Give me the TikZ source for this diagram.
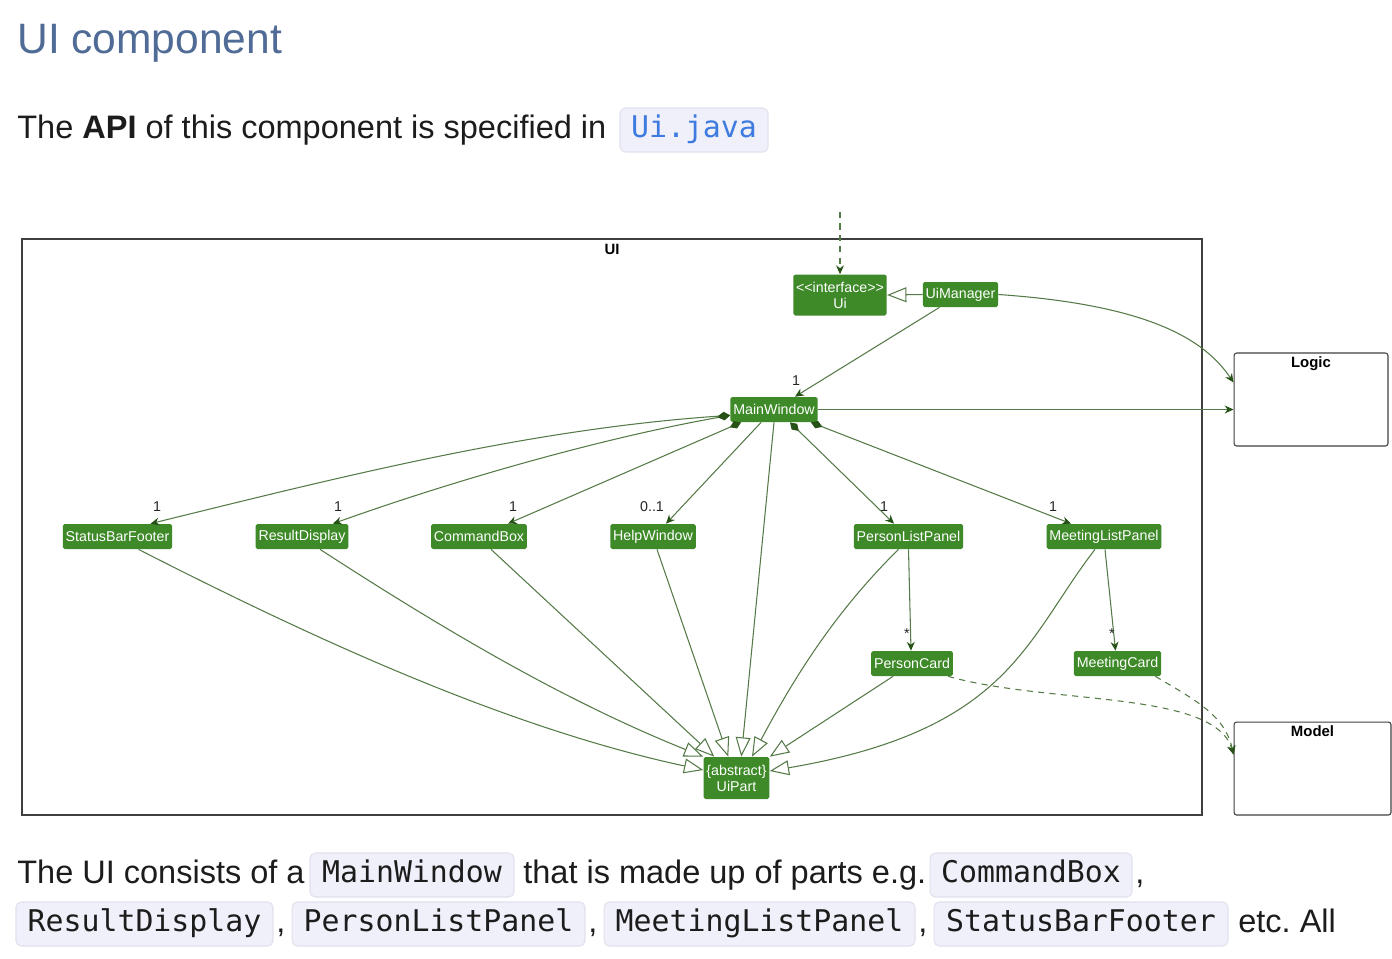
\documentclass[tikz,border=0pt]{standalone}
\usepackage{fontspec}
\setmainfont{Liberation Sans}
\newfontfamily\codefont{DejaVu Sans Mono}
\usetikzlibrary{positioning,calc,arrows.meta}

\definecolor{umlgreen}{RGB}{62,138,40}
\definecolor{edgegreen}{RGB}{85,122,72}
\definecolor{tipgreen}{RGB}{38,82,24}
\definecolor{titleblue}{RGB}{79,107,150}
\definecolor{codebg}{RGB}{240,240,250}
\definecolor{codeborder}{RGB}{225,225,238}
\definecolor{codeblue}{RGB}{62,123,224}
\definecolor{bodytext}{RGB}{28,28,28}

\begin{document}
\begin{tikzpicture}[
        x=0.02cm, y=-0.02cm,
        >=Stealth,
        % Styles
        classbox/.style={rectangle, rounded corners=1pt, fill=umlgreen, text=white, font=\fontsize{8.1}{9}\selectfont, inner xsep=1.6pt, inner ysep=0pt, minimum height=0.5cm, align=center},
        pkgbox/.style={draw=black!75, line width=0.6pt, rounded corners=1.5pt, minimum height=1.86cm},
        pkglabel/.style={font=\fontsize{8.5}{10}\selectfont\bfseries, inner sep=0pt},
        mult/.style={font=\fontsize{8.1}{9}\selectfont, text=black!85, inner sep=0pt},
        assoc/.style={draw=edgegreen, line width=0.6pt, -{Stealth[length=5pt, width=4.5pt, color=tipgreen]}},
        compose/.style={draw=edgegreen, line width=0.6pt, {Diamond[length=7pt, width=4.5pt, color=tipgreen]}-{Stealth[length=5pt, width=4.5pt, color=tipgreen]}},
        inherit/.style={draw=edgegreen, line width=0.6pt, -{Triangle[open, length=11pt, width=8.5pt, fill=white]}},
        depend/.style={assoc, dash pattern=on 3.5pt off 3pt},
        bodyline/.style={anchor=base west, inner sep=0pt, font=\fontsize{18.5}{22}\selectfont, text=bodytext},
        codebox/.style={fill=codebg, draw=codeborder, line width=0.6pt, rounded corners=3pt, inner xsep=0pt, minimum height=0.88cm, text height=12pt, text depth=3pt, font=\codefont\fontsize{17}{20}\selectfont, text=bodytext}
    ]

    \fill[white] (0,0) rectangle (1392,958);
    \useasboundingbox (0,0) rectangle (1392,958);

    % ================= PAGE TEXT =================
    \node[anchor=base west, inner sep=0pt, font=\fontsize{24.2}{28}\selectfont, text=titleblue] (title) at (17,53) {UI component};
    \node[bodyline] (apiline) at (17,138) {The \textbf{API} of this component is specified in};
    \node[codebox, minimum width=2.96cm, text=codeblue] (apicode) at (694,130) {Ui.java};

    % ================= FRAMES =================
    \draw[draw=black!75, line width=0.6pt] (22,239) rectangle (1202,815);
    \node[pkglabel] (uilabel) at (612,249) {UI};
    \node[pkgbox, minimum width=3.08cm] (logic) at (1311,399.5) {};
    \node[pkglabel] (logiclabel) at ($(logic.north)+(0,11)$) {Logic};
    \node[pkgbox, minimum width=3.14cm] (model) at (1312.5,768.5) {};
    \node[pkglabel] (modellabel) at ($(model.north)+(0,10)$) {Model};

    % ================= CLASSES =================
    \node[classbox, minimum height=0.82cm] (ui) at (840,295) {<\kern0pt<interface>\kern0pt>\\Ui};
    \node[classbox] (uimgr) at (960.5,294.5) {UiManager};
    \node[classbox] (mainwin) at (774,409.5) {MainWindow};
    \node[classbox] (statusbar) at (117.5,536.5) {StatusBarFooter};
    \node[classbox] (resultdisp) at (302,536.5) {ResultDisplay};
    \node[classbox] (cmdbox) at (479,536.5) {CommandBox};
    \node[classbox] (helpwin) at (653,536.5) {HelpWindow};
    \node[classbox] (personlist) at (908.5,536.5) {PersonListPanel};
    \node[classbox] (meetinglist) at (1104,536.5) {MeetingListPanel};
    \node[classbox] (personcard) at (912,663.5) {PersonCard};
    \node[classbox] (meetingcard) at (1117.5,663.5) {MeetingCard};
    \node[classbox, minimum height=0.84cm] (uipart) at (736.5,778) {\{abstract\}\\UiPart};

    % ================= API AND LOGIC LINKS =================
    \coordinate (apientry) at (840,212);
    \draw[depend] (apientry) -- (ui.north);
    \draw[inherit] (uimgr.west) -- (ui.east);
    \draw[assoc] ($(uimgr.south west)+(17,0)$) -- ($(mainwin.north)+(21,0)$);
    \node[mult] at (796,381) {1};
    \draw[assoc] (uimgr.east) .. controls (1150,305) and (1205,340) .. ($(logic.north west)+(0,30)$);
    \draw[assoc] (mainwin.east) -- (mainwin.east -| logic.west);

    % ================= MAINWINDOW PARTS =================
    % the two left edges leave from the same diamond and bow a little upwards
    \draw[compose] ($(mainwin.south west)+(0,-7)$) .. controls (530,429) and (344,476) .. ($(statusbar.north)+(33,0)$);
    \draw[compose] ($(mainwin.south west)+(0,-7)$) .. controls (602,438) and (455,480) .. ($(resultdisp.north)+(31,0)$);
    \draw[compose] ($(mainwin.south west)+(11,0)$) -- ($(cmdbox.north)+(29,0)$);
    \draw[assoc] ($(mainwin.south west)+(31,0)$) -- ($(helpwin.north)+(13,0)$);
    \draw[compose] ($(mainwin.south)+(16,0)$) -- ($(personlist.north)+(-14.5,0)$);
    \draw[compose] ($(mainwin.south east)+(-7,0)$) -- ($(meetinglist.north)+(-33,0)$);
    \node[mult] at (157,507) {1};
    \node[mult] at (338,507) {1};
    \node[mult] at (513,507) {1};
    \node[mult] at (652,507) {0..1};
    \node[mult] at (884,507) {1};
    \node[mult] at (1053,507) {1};

    % ================= CARDS =================
    \draw[assoc] (personlist.south) -- ($(personcard.north)+(-1,0)$);
    \draw[assoc] ($(meetinglist.south)+(1,0)$) -- ($(meetingcard.north)+(-2,0)$);
    \node[mult] at (907,634) {*};
    \node[mult] at (1112,634) {*};

    % ================= UIPART HIERARCHY =================
    \draw[inherit] ($(statusbar.south)+(21,0)$) .. controls (316,640) and (508,728) .. ($(uipart.west)+(0,-8)$);
    \draw[inherit] ($(resultdisp.south)+(18,0)$) .. controls (446,631) and (565,701) .. (uipart.north west);
    \draw[inherit] ($(cmdbox.south)+(12,0)$) -- ($(uipart.north west)+(11,0)$);
    \draw[inherit] ($(helpwin.south)+(4,0)$) -- ($(uipart.north west)+(25,0)$);
    \draw[inherit] (mainwin.south) -- ($(uipart.north west)+(38,0)$);
    \draw[inherit] ($(personlist.south)+(-10,0)$) .. controls (834,613) and (794,678) .. ($(uipart.north)+(15.5,0)$);
    \draw[inherit] ($(personcard.south)+(-19,0)$) -- (uipart.north east);
    \draw[inherit] ($(meetinglist.south)+(-9,0)$) .. controls (1025,640) and (1010,730) .. ($(uipart.east)+(0,-7)$);

    % ================= MODEL LINKS =================
    \draw[depend] ($(personcard.south east)+(-5,0)$) .. controls (1050,705) and (1215,690) .. ($(model.north west)+(0,33)$);
    \draw[depend] ($(meetingcard.south east)+(-6,0)$) .. controls (1195,700) and (1225,715) .. ($(model.north west)+(0,33)$);

    % ================= TEXT BELOW =================
    \node[bodyline] (lineone) at (17,883) {The UI consists of a};
    \node[codebox, minimum width=4.08cm] (codemain) at (412,875) {MainWindow};
    \node[bodyline] (lineonemid) at (523,883) {that is made up of parts e.g.};
    \node[codebox, minimum width=4.04cm] (codecmd) at (1031,875) {CommandBox};
    \node[bodyline] at (1135,883) {,};
    \node[codebox, minimum width=5.14cm] (coderesult) at (144.5,924) {ResultDisplay};
    \node[bodyline] at (276,932) {,};
    \node[codebox, minimum width=5.86cm] (codeperson) at (438.5,924) {PersonListPanel};
    \node[bodyline] at (588,932) {,};
    \node[codebox, minimum width=6.22cm] (codemeeting) at (759.5,924) {MeetingListPanel};
    \node[bodyline] at (918,932) {,};
    \node[codebox, minimum width=5.88cm] (codestatus) at (1081,924) {StatusBarFooter};
    \node[bodyline] (linetwoend) at (1238,932) {etc.\ All};

\end{tikzpicture}
\end{document}
